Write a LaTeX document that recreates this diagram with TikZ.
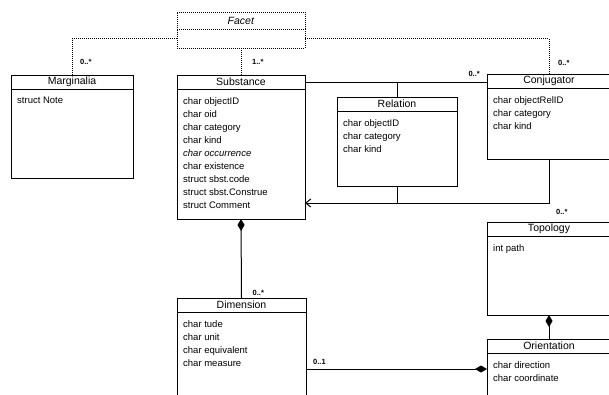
\documentclass[tikz,border=0pt]{standalone}
\usepackage{fontspec}
\setmainfont{Liberation Sans}
\usetikzlibrary{positioning}
\usetikzlibrary{arrows.meta}
\newcommand{\umlclass}[6][]{%
  \node (#2) [classname, minimum width=#3, #1] {#4};
  \node (#2-body) [classbody, minimum width=#3, minimum height=#5, below=0pt of #2] {};
  \node (#2-attr) [attrs, below right=8pt and 6pt of #2-body.north west] {#6};}
\tikzstyle{classname} = [draw, line width=1pt, outer sep=0pt, inner sep=0pt, minimum height=14pt, anchor=north west, font=\fontsize{10.5}{12}\selectfont]
\tikzstyle{classbody} = [draw, line width=1pt, outer sep=0pt, inner sep=0pt]
\tikzstyle{attrs} = [inner sep=0pt, align=left, font=\fontsize{9.5}{13}\selectfont]
\tikzstyle{mult} = [inner sep=0pt, font=\fontsize{7.5}{9}\selectfont\bfseries]
\tikzstyle{assoc} = [line width=1pt]
\tikzstyle{dotline} = [line width=1pt, densely dotted]
\tikzstyle{part} = [{Diamond[length=12pt, width=7pt]}-]
\tikzstyle{whole} = [-{Diamond[length=12pt, width=7pt]}]
\tikzstyle{nav} = [-{Straight Barb[length=5pt, width=8pt]}]

\begin{document}
\begin{tikzpicture}[x=1pt, y=-1pt]
	\useasboundingbox (0,0) rectangle (609,394);
	\clip (0,0) rectangle (609,394);

	\node (facet) [classname, densely dotted, minimum width=128pt, minimum height=17pt, at={(177,12)}] {\textit{Facet}};
	\node (facet-body) [classbody, densely dotted, minimum width=128pt, minimum height=19pt, below=0pt of facet] {};

	\umlclass[at={(11,75)}]{marg}{122pt}{Marginalia}{89pt}{struct Note}
	\umlclass[at={(177,75)}]{subst}{128pt}{Substance}{130pt}{char objectID\\char oid\\char category\\char kind\\\textit{char occurrence}\\char existence\\struct sbst.code\\struct sbst.Construe\\struct Comment}
	\umlclass[at={(337,97)}]{rel}{120pt}{Relation}{75pt}{char objectID\\char category\\char kind}
	\umlclass[at={(487,74)}]{conj}{124pt}{Conjugator}{71pt}{char objectRelID\\char category\\char kind}
	\umlclass[at={(487,222)}]{topo}{124pt}{Topology}{79pt}{int path}
	\umlclass[at={(487,339)}]{orient}{124pt}{Orientation}{90pt}{char direction\\char coordinate}
	\umlclass[at={(177,298)}]{dim}{129pt}{Dimension}{120pt}{char tude\\char unit\\char equivalent\\char measure}

	\draw[dotline] (facet-body.west) -| (marg.north);
	\draw[dotline] (facet-body.south) -- (subst.north);
	\draw[dotline] (facet-body.east) -| (conj.north);
	\node[mult, above right=10pt and 8pt of marg.north] {0..*};
	\node[mult, above right=10pt and 11pt of subst.north] {1..*};
	\node[mult, above right=8pt and 9pt of conj.north] {0..*};

	\draw[assoc] (subst.east) -- (subst.east -| conj.west);
	\draw[assoc] (rel.north) -- (rel.north |- subst.east);
	\node[mult, above left=4pt and 7pt of conj.west] {0..*};

	\coordinate (tip) at ([yshift=16pt]subst-body.south east);
	\draw[assoc, nav] (conj-body.south) |- (tip);
	\draw[assoc] (rel-body.south) -- (rel-body.south |- tip);
	\node[mult, above right=7pt and 7pt of topo.north] {0..*};

	\draw[assoc, part] (subst-body.south) -- (dim.north);
	\node[mult, above right=2pt and 11pt of dim.north] {0..*};
	\draw[assoc, part] (topo-body.south) -- (orient.north);

	\coordinate (meas) at ([yshift=-57pt]dim-body.north east);
	\draw[assoc, whole] (meas) -- (meas -| orient-body.west);
	\node[mult, above right=4pt and 7pt of meas] {0..1};
\end{tikzpicture}
\end{document}
